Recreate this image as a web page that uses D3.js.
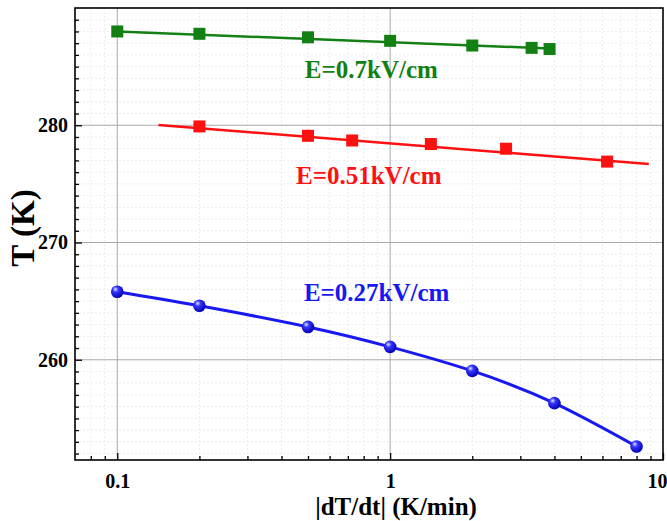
<!DOCTYPE html>
<html lang="en">
  <head>
    <meta charset="UTF-8" />
    <title>T vs |dT/dt|</title>
    <script src="https://d3js.org/d3.v7.min.js"></script>
    <style>
      body { margin: 0; background: #fff; }
      text { font-family: "Liberation Serif", "Times New Roman", serif; font-weight: bold; }
    </style>
  </head>
  <body>
    <svg width="667" height="521"></svg>
    <script>
      // Data
      const rateGreen = [0.1, 0.2, 0.5, 1, 2, 3.3, 3.84];
      const tempGreen = [288.0, 287.8, 287.5, 287.2, 286.8, 286.6, 286.5];
      const fitGreen = [[0.1, 288.0], [3.84, 286.55]];

      const rateRed = [0.2, 0.5, 0.726, 1.41, 2.66, 6.24];
      const tempRed = [279.9, 279.1, 278.7, 278.4, 278.0, 276.9];
      const fitRed = [[0.1416, 280.03], [8.87, 276.7]];

      const rateBlue = [0.1, 0.2, 0.5, 1, 2, 4, 8];
      const tempBlue = [265.8, 264.6, 262.8, 261.1, 259.05, 256.3, 252.6];

      const xMajor = [0.1, 1, 10];
      const yMajor = [260, 270, 280];

      const labels = [
        { text: "E=0.7kV/cm", color: "#138013", rate: 0.487, temp: 284.0 },
        { text: "E=0.51kV/cm", color: "#ff1010", rate: 0.452, temp: 275.0 },
        { text: "E=0.27kV/cm", color: "#1818f0", rate: 0.483, temp: 265.0 },
      ];

      const svg = d3.select("svg");
      const mLeft = 75, mRight = 663, mTop = 8, mBottom = 460;

      const x = d3.scaleLog().domain([0.07, 10]).range([mLeft, mRight]);
      const y = d3.scaleLinear().domain([251.45, 290]).range([mBottom, mTop]);

      // minor tick values
      const xMinor = [];
      [0.01, 0.1, 1].forEach((d) => {
        for (let k = 2; k <= 9; k++) {
          const v = d * k;
          if (v > 0.07 && v < 10) xMinor.push(v);
        }
      });
      const yMinor = d3.range(252, 291).filter((v) => v % 10 !== 0);

      // minor grid
      const grid = svg.append("g");
      grid.selectAll("line.vx")
        .data(xMinor)
        .enter()
        .append("line")
        .attr("x1", (d) => x(d)).attr("x2", (d) => x(d))
        .attr("y1", mTop).attr("y2", mBottom)
        .style("stroke", "#ececec")
        .style("stroke-dasharray", "2,2");
      grid.selectAll("line.hy")
        .data(yMinor)
        .enter()
        .append("line")
        .attr("x1", mLeft).attr("x2", mRight)
        .attr("y1", (d) => y(d)).attr("y2", (d) => y(d))
        .style("stroke", "#ececec")
        .style("stroke-dasharray", "2,2");

      // major grid
      grid.selectAll("line.mx")
        .data(xMajor.slice(0, 2))
        .enter()
        .append("line")
        .attr("x1", (d) => x(d)).attr("x2", (d) => x(d))
        .attr("y1", mTop).attr("y2", mBottom)
        .style("stroke", "#a8a8a8");
      grid.selectAll("line.my")
        .data(yMajor)
        .enter()
        .append("line")
        .attr("x1", mLeft).attr("x2", mRight)
        .attr("y1", (d) => y(d)).attr("y2", (d) => y(d))
        .style("stroke", "#a8a8a8");

      // axes
      const xAxis = svg.append("g")
        .attr("transform", `translate(0,${mBottom})`)
        .call(d3.axisBottom(x).tickValues(xMajor).tickSize(-7).tickPadding(14)
          .tickFormat((d) => (d < 1 ? "0.1" : String(d))));
      svg.append("g")
        .attr("transform", `translate(0,${mBottom})`)
        .call(d3.axisBottom(x).tickValues(xMinor).tickSize(-4).tickFormat(""));

      svg.append("g")
        .attr("transform", `translate(${mLeft},0)`)
        .call(d3.axisLeft(y).tickValues(yMajor).tickSize(-7).tickPadding(7));
      svg.append("g")
        .attr("transform", `translate(${mLeft},0)`)
        .call(d3.axisLeft(y).tickValues(yMinor).tickSize(-4).tickFormat(""));

      svg.selectAll(".domain").remove();
      svg.selectAll(".tick line").style("stroke", "#000").style("stroke-width", 1.3);
      svg.selectAll(".tick text")
        .style("font-family", "'Liberation Serif', serif")
        .style("font-weight", "bold")
        .style("font-size", "20px")
        .style("fill", "#000");
      // last label sits at the right edge, keep it inside the page
      xAxis.selectAll(".tick text")
        .filter((d) => d === 10)
        .attr("text-anchor", "end")
        .attr("x", 4);

      // frame
      svg.append("rect")
        .attr("x", mLeft).attr("y", mTop)
        .attr("width", mRight - mLeft).attr("height", mBottom - mTop)
        .style("fill", "none")
        .style("stroke", "#000")
        .style("stroke-width", 1.6);

      // fit lines
      const line = d3.line().x((d) => x(d[0])).y((d) => y(d[1]));
      svg.append("path").datum(fitGreen).attr("d", line)
        .style("fill", "none").style("stroke", "#138013").style("stroke-width", 2.5);
      svg.append("path").datum(fitRed).attr("d", line)
        .style("fill", "none").style("stroke", "#ff1010").style("stroke-width", 2.5);

      const blue = rateBlue.map((r, i) => [r, tempBlue[i]]);
      svg.append("path").datum(blue)
        .attr("d", line.curve(d3.curveNatural))
        .style("fill", "none").style("stroke", "#1818f0").style("stroke-width", 3);

      // square markers
      const sq = 12;
      const green = rateGreen.map((r, i) => [r, tempGreen[i]]);
      const red = rateRed.map((r, i) => [r, tempRed[i]]);
      svg.selectAll("rect.g").data(green).enter().append("rect")
        .attr("x", (d) => x(d[0]) - sq / 2).attr("y", (d) => y(d[1]) - sq / 2)
        .attr("width", sq).attr("height", sq)
        .style("fill", "#138013");
      svg.selectAll("rect.r").data(red).enter().append("rect")
        .attr("x", (d) => x(d[0]) - sq / 2).attr("y", (d) => y(d[1]) - sq / 2)
        .attr("width", sq).attr("height", sq)
        .style("fill", "#ff1010");

      // sphere markers
      const grad = svg.append("defs").append("radialGradient")
        .attr("id", "ball").attr("cx", "40%").attr("cy", "35%").attr("r", "65%")
        .attr("fx", "35%").attr("fy", "30%");
      grad.append("stop").attr("offset", "0%").attr("stop-color", "#e4e4ff");
      grad.append("stop").attr("offset", "35%").attr("stop-color", "#3535ff");
      grad.append("stop").attr("offset", "100%").attr("stop-color", "#0000b0");
      svg.selectAll("circle").data(blue).enter().append("circle")
        .attr("cx", (d) => x(d[0])).attr("cy", (d) => y(d[1]))
        .attr("r", 6.3)
        .style("fill", "url(#ball)");

      // series labels
      svg.selectAll("text.lab").data(labels).enter().append("text")
        .attr("x", (d) => x(d.rate)).attr("y", (d) => y(d.temp))
        .style("font-size", "25px")
        .style("fill", (d) => d.color)
        .text((d) => d.text);

      // axis titles
      svg.append("text")
        .attr("x", 396).attr("y", 515)
        .attr("text-anchor", "middle")
        .style("font-size", "25px")
        .text("|dT/dt| (K/min)");
      svg.append("text")
        .attr("transform", "translate(34,228) rotate(-90)")
        .attr("text-anchor", "middle")
        .style("font-size", "33px")
        .text("T (K)");
    </script>
  </body>
</html>
